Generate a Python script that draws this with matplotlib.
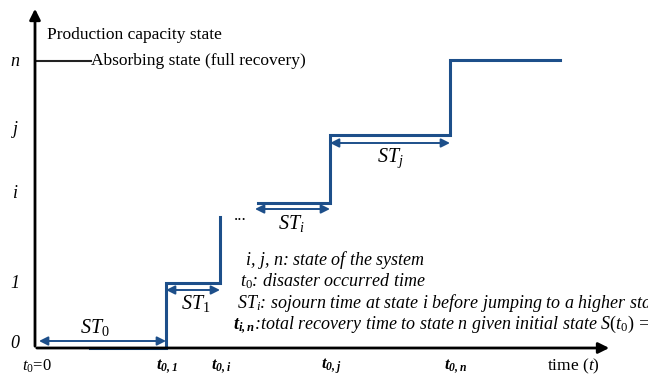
import matplotlib.pyplot as plt

plt.rcParams['font.family'] = 'Liberation Serif'
plt.rcParams['mathtext.fontset'] = 'custom'
plt.rcParams['mathtext.rm'] = 'Liberation Serif'
plt.rcParams['mathtext.it'] = 'Liberation Serif:italic'
plt.rcParams['mathtext.bf'] = 'Liberation Serif:bold:italic'

blue = '#1d4f8a'

# state levels (pixel rows) and jump times (pixel columns)
state_labels = ['0', '1', 'i', 'j', 'n']
state_y = [343, 283, 193, 130, 61]
time_labels = [r'$t_0$=0', r'$\mathbf{t_{0,1}}$', r'$\mathbf{t_{0,i}}$', r'$\mathbf{t_{0,j}}$', r'$\mathbf{t_{0,n}}$']
time_x = [37, 167, 221, 331, 456]

# step path pieces
step1_x = [90, 166, 166, 220, 220]
step1_y = [348, 348, 283, 283, 217]
step2_x = [258, 330, 330, 450, 450, 560]
step2_y = [203, 203, 135, 135, 60, 60]

# sojourn arrows: (x0, x1, y, label, label x, label y)
sojourn = [
    (39, 166, 341, r'$ST_0$', 95, 327),
    (166, 220, 290, r'$ST_1$', 196, 303),
    (255, 330, 209, r'$ST_i$', 291, 223),
    (330, 450, 143, r'$ST_j$', 390, 158),
]

legend_lines = [
    r'$i$, $j$, $n$: state of the system',
    r'$t_0$: disaster occurred time',
    r'$ST_i$: sojourn time at state i before jumping to a higher state',
    r'$\mathbf{t_{i,n}}$:total recovery time to state n given initial state $S(t_0)$ =0',
]
legend_x = [245, 240, 237, 233]
legend_y = [260, 281, 303, 325]

fig = plt.figure(figsize=(6.48, 3.78), dpi=100)
ax = fig.add_axes([0, 0, 1, 1])
ax.set_xlim(0, 648)
ax.set_ylim(378, 0)
ax.axis('off')

# axes with arrows
ax.annotate('', xy=(35, 6), xytext=(35, 349),
            arrowprops=dict(arrowstyle='-|>', color='black', lw=2, mutation_scale=16))
ax.annotate('', xy=(612, 348), xytext=(34, 348),
            arrowprops=dict(arrowstyle='-|>', color='black', lw=2, mutation_scale=16))

ax.plot(step1_x, step1_y, color=blue, lw=2.2, solid_joinstyle='miter')
ax.plot(step2_x, step2_y, color=blue, lw=2.2, solid_joinstyle='miter')

# absorbing state marker
ax.plot([36, 91], [step2_y[-1] + 1, step2_y[-1] + 1], color='#222222', lw=1.5)
ax.text(91, 61, 'Absorbing state (full recovery)', fontsize=12.5, va='center', ha='left')
ax.text(47, 35, 'Production capacity state', fontsize=12.5, va='center', ha='left')

for lab, y in zip(state_labels, state_y):
    ax.text(15, y, lab, fontsize=13, style='italic', va='center', ha='center')

for lab, x in zip(time_labels, time_x):
    ax.text(x, 366, lab, fontsize=12, va='center', ha='center')
ax.text(573, 366, 'time ($t$)', fontsize=12.5, va='center', ha='center')

for x0, x1, y, lab, lx, ly in sojourn:
    ax.annotate('', xy=(x1, y), xytext=(x0, y),
                arrowprops=dict(arrowstyle='<|-|>', color=blue, lw=1.4, mutation_scale=13,
                                shrinkA=0, shrinkB=0))
    ax.text(lx, ly, lab, fontsize=14.5, va='center', ha='center')

ax.text(240, 216, '...', fontsize=12, va='center', ha='center')

for s, x, y in zip(legend_lines, legend_x, legend_y):
    ax.text(x, y, s, fontsize=13, style='italic', va='center', ha='left')

fig.savefig('out.png', dpi=100)
